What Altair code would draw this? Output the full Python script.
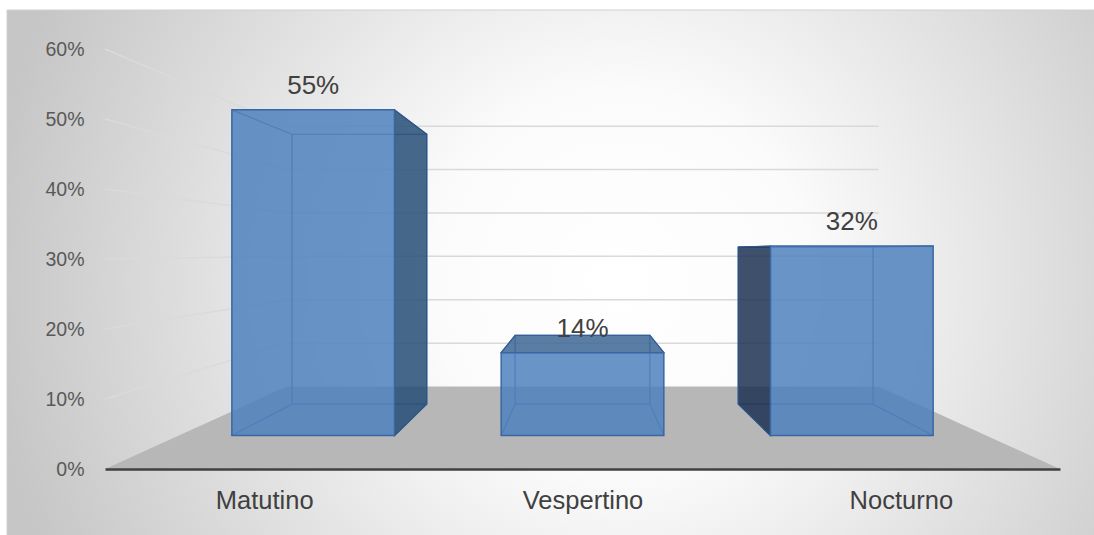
import json
import altair as alt
import pandas as pd

# ---------------- data ----------------
CATEGORIES = ["Matutino", "Vespertino", "Nocturno"]
VALUES = [0.55, 0.14, 0.32]
Y_TICKS = [0, 0.1, 0.2, 0.3, 0.4, 0.5, 0.6]

# ---------------- 3D perspective style constants ----------------
XC, YC = 1.0, 0.31          # vanishing centre (data units)
KF, KB, KW = 0.846, 0.701, 0.62   # depth factors: bar front, bar back, back wall
HW = 0.302                  # half bar width (category units)
X_MIN, X_MAX = -0.5, 2.5    # floor extent (category units)
FONT = "Liberation Sans"

BAR_FILL = "#4f81bd"
EDGE = "#3d6eae"
FRONT_EDGE = "#3a67a4"


def px(x, k):
    return f"({XC} + ({k})*(({x}) - {XC}))"


def py(y, k):
    return f"({YC} + ({k})*(({y}) - {YC}))"


bars = pd.DataFrame({"cat": CATEGORIES, "i": list(range(len(CATEGORIES))), "v": VALUES})
grid = pd.DataFrame({"t": Y_TICKS[1:]})

XS = alt.Scale(domain=[X_MIN, X_MAX], range=[105, 1060], nice=False, zero=False)
YS = alt.Scale(domain=[0, 0.6], range=[469, 49], nice=False, zero=False)

XAXIS = alt.Axis(
    values=[0, 1, 2], labelExpr=f"{json.dumps(CATEGORIES)}[datum.value]", title=None,
    orient="bottom", offset=-66, domain=True, domainColor="#404040", domainWidth=2.5,
    ticks=False, grid=False, labelFontSize=25.5, labelColor="#404040", labelFont=FONT,
    labelPadding=19, labelFlush=False, labelOverlap=False, zindex=1,
)
YAXIS = alt.Axis(
    values=Y_TICKS, format=".0%", title=None, orient="left", offset=-105, domain=False,
    ticks=False, grid=False, labelFontSize=19.5, labelColor="#595959", labelFont=FONT,
    labelPadding=21, zindex=1,
)


def X():
    return alt.X("X:Q", scale=XS, axis=XAXIS)


def Y():
    return alt.Y("Y:Q", scale=YS, axis=YAXIS)


GRAD = {
    "gradient": "radial", "x1": 0.56, "y1": 0.25, "r1": 0,
    "x2": 0.56, "y2": 0.25, "r2": 0.58,
    "stops": [
        {"offset": 0, "color": "#ffffff"},
        {"offset": 0.3, "color": "#fbfbfb"},
        {"offset": 1, "color": "#c6c6c6"},
    ],
}

bg = alt.Chart(alt.Data(values=[{"a": 1}])).mark_rect(
    clip=True, fill=GRAD, stroke="#d0d0d0", strokeWidth=1
).encode(x=alt.value(7), x2=alt.value(1100), y=alt.value(10), y2=alt.value(1097))

grid_back = alt.Chart(grid).transform_calculate(
    X=px(X_MIN, KW), X2=px(X_MAX, KW), Y=py("datum.t", KW)
).mark_rule(color="#d9d9d9", strokeWidth=1.5).encode(x=X(), x2="X2:Q", y=Y())

grid_left = alt.Chart(grid).transform_calculate(
    X=px(X_MIN, 1), Y=py("datum.t", 1), X2=px(X_MIN, KW), Y2=py("datum.t", KW)
).mark_rule(color="#dadada", strokeWidth=1.5).encode(x=X(), y=Y(), x2="X2:Q", y2="Y2:Q")

floor = alt.Chart(alt.Data(values=[{"k": 1.0}, {"k": KW}])).transform_calculate(
    X=px(X_MIN, "datum.k"), X2=px(X_MAX, "datum.k"), Y=py(0, "datum.k")
).mark_area(orient="horizontal", color="#b7b7b7").encode(x=X(), x2="X2:Q", y=Y())

base = alt.Chart(bars)

back = base.transform_calculate(
    X=px(f"datum.i - {HW}", KB), X2=px(f"datum.i + {HW}", KB),
    Y=py(0, KB), Y2=py("datum.v", KB),
).mark_rect(fillOpacity=0, stroke=EDGE, strokeWidth=1.2).encode(
    x=X(), x2="X2:Q", y=Y(), y2="Y2:Q"
)

diag = base.transform_calculate(
    cx=f"[datum.i - {HW}, datum.i + {HW}, datum.i - {HW}, datum.i + {HW}]",
    cy="[0, 0, datum.v, datum.v]",
).transform_flatten(["cx", "cy"]).transform_calculate(
    X=px("datum.cx", KF), Y=py("datum.cy", KF), X2=px("datum.cx", KB), Y2=py("datum.cy", KB)
).mark_rule(color=EDGE, strokeWidth=1.2).encode(x=X(), y=Y(), x2="X2:Q", y2="Y2:Q")

sides = base.transform_calculate(
    sx=f"datum.i + {HW} < {XC} ? datum.i + {HW} : (datum.i - {HW} > {XC} ? datum.i - {HW} : null)"
).transform_filter("datum.sx != null").transform_calculate(
    facing=f"datum.i + {HW} < {XC} ? 'right' : 'left'", ks=f"[{KF}, {KB}]"
).transform_flatten(["ks"]).transform_calculate(
    X=px("datum.sx", "datum.ks"), Y=py("datum.v", "datum.ks"), Y2=py(0, "datum.ks")
).mark_area(orient="vertical", fillOpacity=0.85, stroke="#2f5586", strokeWidth=1.2).encode(
    x=X(), y=Y(), y2="Y2:Q", detail="cat:N",
    fill=alt.Fill("facing:N", scale=alt.Scale(domain=["right", "left"],
                                              range=["#264d77", "#1c3151"]), legend=None),
)

tops = base.transform_filter(f"datum.v < {YC}").transform_calculate(
    ks=f"[{KF}, {KB}]"
).transform_flatten(["ks"]).transform_calculate(
    X=px(f"datum.i - {HW}", "datum.ks"), X2=px(f"datum.i + {HW}", "datum.ks"),
    Y=py("datum.v", "datum.ks"),
).mark_area(orient="horizontal", color="#3d6697", fillOpacity=0.85,
            stroke="#34609a", strokeWidth=1.2).encode(x=X(), x2="X2:Q", y=Y(), detail="cat:N")

front = base.transform_calculate(
    X=px(f"datum.i - {HW}", KF), X2=px(f"datum.i + {HW}", KF),
    Y=py(0, KF), Y2=py("datum.v", KF),
).mark_rect(fill=BAR_FILL, fillOpacity=0.85, stroke=FRONT_EDGE, strokeWidth=1.5).encode(
    x=X(), x2="X2:Q", y=Y(), y2="Y2:Q"
)

labels = base.transform_calculate(
    X=px("datum.i", KF), Y=py("datum.v", KF)
).mark_text(dy=-16, baseline="alphabetic", fontSize=26, font=FONT, color="#404040").encode(
    x=X(), y=Y(), text=alt.Text("v:Q", format=".0%")
)

chart = alt.layer(
    bg, grid_back, grid_left, floor, back, diag, sides, tops, front, labels
).properties(
    width=1094, height=535, autosize=alt.AutoSizeParams(type="none"), padding=0,
    background="white",
).configure_view(strokeWidth=0)

chart.save("out.html", embed_options={"renderer": "svg", "actions": False})
